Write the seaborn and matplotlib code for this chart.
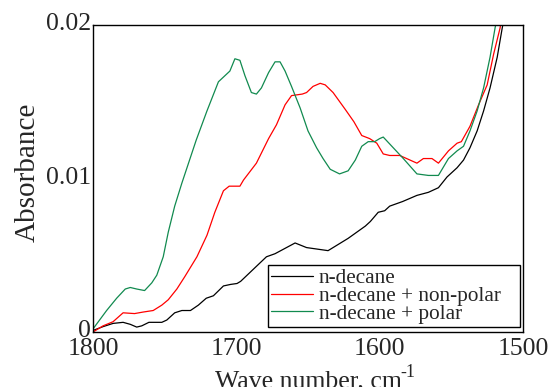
import pandas as pd
import matplotlib
matplotlib.use('Agg')
import matplotlib.pyplot as plt
import matplotlib.transforms as mtransforms
import seaborn as sns

# --- Spectra (wave number in cm-1, absorbance) ---
wn_decane = [1800, 1793, 1786, 1779, 1774, 1769.5, 1766, 1761, 1752, 1748.5, 1743, 1738, 1732,
             1726.5, 1721, 1716, 1709, 1704, 1699.5, 1697, 1688, 1679, 1673, 1659, 1651, 1636,
             1622, 1610, 1606.5, 1601, 1596.5, 1593, 1584, 1574, 1566, 1559, 1553, 1546, 1541.5,
             1537, 1532, 1527.5, 1523, 1518, 1514.5, 1512]
abs_decane = [0.0001, 0.00035, 0.00056, 0.00063, 0.0005, 0.00032, 0.0004, 0.00063, 0.00063, 0.00078,
              0.00125, 0.0014, 0.0014, 0.00175, 0.0022, 0.00236, 0.003, 0.0031, 0.00316, 0.0033,
              0.0041, 0.0049, 0.0051, 0.0058, 0.0055, 0.0053, 0.0061, 0.0069, 0.0072, 0.0078,
              0.0079, 0.0082, 0.0085, 0.0089, 0.0091, 0.0094, 0.0101, 0.0107, 0.0112, 0.012,
              0.0131, 0.0144, 0.0159, 0.0179, 0.0198, 0.021]

wn_nonpolar = [1800, 1793, 1786, 1779, 1771, 1765, 1758, 1752, 1747.5, 1741.5, 1736, 1727.5, 1720.5,
               1715, 1709, 1705, 1701, 1697.5, 1695, 1686, 1677.5, 1672, 1666, 1661.5, 1654, 1651,
               1646.5, 1641.5, 1638, 1632.5, 1624, 1618, 1612.5, 1607, 1602, 1597.5, 1593, 1586,
               1574, 1569.5, 1563.5, 1559, 1552, 1546, 1543, 1537, 1531, 1525, 1520.5, 1516, 1514]
abs_nonpolar = [0.0, 0.0004, 0.00067, 0.00125, 0.0012, 0.0013, 0.0014, 0.00175, 0.0021, 0.0028,
                0.0036, 0.0049, 0.0063, 0.0078, 0.0092, 0.0095, 0.0095, 0.0095, 0.0099, 0.011,
                0.0126, 0.0135, 0.0148, 0.0154, 0.0155, 0.0156, 0.016, 0.0162, 0.0161, 0.0156,
                0.0145, 0.0137, 0.0128, 0.0126, 0.0123, 0.0116, 0.0115, 0.0115, 0.011, 0.0113,
                0.0113, 0.011, 0.0118, 0.0123, 0.0124, 0.0134, 0.0148, 0.0161, 0.0181, 0.0198, 0.021]

wn_polar = [1800, 1790.5, 1783.5, 1777.5, 1774, 1769.5, 1764, 1759, 1755.5, 1751, 1747.5, 1743,
            1738, 1728, 1720.5, 1712.5, 1704.5, 1701, 1697.5, 1694, 1689.5, 1686, 1682.5, 1677.5,
            1673, 1669.5, 1666, 1661.5, 1655.5, 1650, 1644, 1639.5, 1634.5, 1628, 1622, 1617,
            1612.5, 1608, 1603.5, 1600, 1597.5, 1590.5, 1583.5, 1574, 1566, 1559, 1552, 1546,
            1541.5, 1537, 1532, 1527.5, 1523, 1519.5, 1517]
abs_polar = [0.0002, 0.0014, 0.0022, 0.0028, 0.0029, 0.0028, 0.0027, 0.0032, 0.0037, 0.0049,
             0.0065, 0.0082, 0.0097, 0.0125, 0.0144, 0.0163, 0.017, 0.0178, 0.0177, 0.0167,
             0.0156, 0.0155, 0.0159, 0.0169, 0.0176, 0.0176, 0.017, 0.016, 0.0146, 0.0131,
             0.012, 0.0113, 0.0106, 0.0103, 0.0105, 0.0112, 0.0121, 0.0124, 0.0124, 0.0126,
             0.0127, 0.012, 0.0113, 0.0103, 0.0102, 0.0102, 0.0113, 0.0118, 0.0121, 0.0131,
             0.0144, 0.0159, 0.0179, 0.0198, 0.021]

series_names = ['n-decane', 'n-decane + non-polar', 'n-decane + polar']
series_colors = ['black', '#ff0000', '#118a4f']

x_major = [1800, 1700, 1600, 1500]
x_minor = [1750, 1650, 1550]
y_major = [0, 0.01, 0.02]
y_major_labels = ['0', '0.01', '0.02']
y_minor = [0.005, 0.015]

# long-form table for seaborn
parts = []
for name, wn, ab in zip(series_names, [wn_decane, wn_nonpolar, wn_polar],
                        [abs_decane, abs_nonpolar, abs_polar]):
    parts.append(pd.DataFrame({'wn': wn, 'abs': ab, 'sample': name}))
df = pd.concat(parts, ignore_index=True)

sns.set_style('white')
plt.rcParams['font.family'] = ['Liberation Serif', 'DejaVu Serif']

fig = plt.figure(figsize=(5.5, 3.87), dpi=100)
ax = fig.add_axes([93 / 550, 1 - 332 / 387, 430 / 550, 307 / 387])

sns.lineplot(data=df, x='wn', y='abs', hue='sample', hue_order=series_names,
             palette=series_colors, estimator=None, sort=False, linewidth=0.9, ax=ax)

ax.set_xlim(1800, 1500)
ax.set_ylim(0, 0.02)
ax.set_xticks(x_major)
ax.set_xticks(x_minor, minor=True)
ax.set_yticks(y_major, labels=y_major_labels)
ax.set_yticks(y_minor, minor=True)
ax.tick_params(which='both', direction='in', top=False, right=False, color='black', width=1)
ax.tick_params(which='major', length=7, labelsize=18.5)
ax.tick_params(which='minor', length=3.5)
ax.tick_params(axis='x', which='major', pad=4)
ax.tick_params(axis='y', which='major', pad=1.5)
for sp in ax.spines.values():
    sp.set_color('black')
    sp.set_linewidth(1.0)

# y tick labels sit a little above their ticks in the original
lift = mtransforms.ScaledTranslation(0, 2.5 / 72, fig.dpi_scale_trans)
for lab in ax.get_yticklabels():
    lab.set_transform(lab.get_transform() + lift)

ax.set_xlabel('Wave number, cm', fontsize=18.5, labelpad=8)
ax.set_ylabel('Absorbance', fontsize=21, labelpad=4, y=0.52)
ax.annotate('-1', xy=(1.0, 1.0), xycoords=ax.xaxis.label, xytext=(-1, -1.5),
            textcoords='offset points', fontsize=13, ha='left', va='center')

leg = ax.legend(loc='lower left', bbox_to_anchor=(0.407, 0.0163, 0.586, 0.2), mode='expand',
                borderaxespad=0, fontsize=15.3, labelspacing=-0.1, handlelength=1.95,
                handletextpad=0.3, borderpad=0.15, fancybox=False, frameon=True)
leg.get_frame().set_edgecolor('black')
leg.get_frame().set_linewidth(1.0)
leg.get_frame().set_alpha(1)

fig.savefig('out.png', dpi=100)
